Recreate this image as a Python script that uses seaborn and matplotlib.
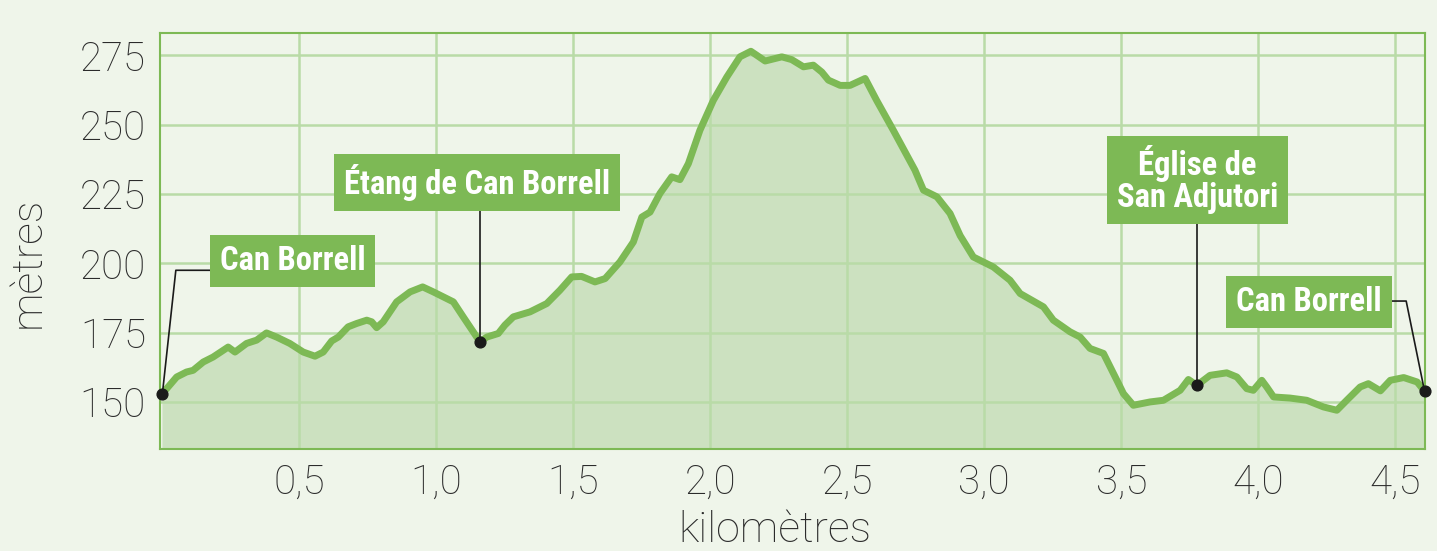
import numpy as np
import pandas as pd
import seaborn as sns
import matplotlib.pyplot as plt
from matplotlib import font_manager

# -------------------------------
# Data: elevation profile (km, m)
# -------------------------------
distance_km = [0.000, 0.052, 0.088, 0.112, 0.149, 0.185, 0.240, 0.265, 0.307, 0.344,
               0.380, 0.417, 0.465, 0.514, 0.557, 0.587, 0.618, 0.642, 0.678, 0.709,
               0.746, 0.764, 0.782, 0.806, 0.855, 0.904, 0.950, 0.989, 1.062, 1.098,
               1.159, 1.184, 1.226, 1.250, 1.281, 1.342, 1.403, 1.451, 1.494, 1.530,
               1.579, 1.616, 1.670, 1.719, 1.750, 1.780, 1.816, 1.859, 1.889, 1.920,
               1.962, 2.011, 2.060, 2.108, 2.148, 2.169, 2.200, 2.261, 2.297, 2.340,
               2.376, 2.407, 2.431, 2.474, 2.510, 2.565, 2.607, 2.668, 2.747, 2.778,
               2.827, 2.875, 2.912, 2.960, 3.033, 3.094, 3.131, 3.216, 3.252, 3.313,
               3.350, 3.386, 3.435, 3.484, 3.508, 3.544, 3.605, 3.654, 3.715, 3.745,
               3.776, 3.824, 3.885, 3.922, 3.958, 3.982, 4.013, 4.031, 4.056, 4.116,
               4.177, 4.238, 4.287, 4.323, 4.372, 4.402, 4.446, 4.482, 4.531, 4.580,
               4.607]
elevation_m = [153.0, 159.0, 160.8, 161.4, 164.4, 166.2, 169.8, 168.0, 171.1, 172.3,
               174.9, 173.4, 171.1, 168.0, 166.5, 168.0, 172.0, 173.4, 177.1, 178.3,
               179.5, 178.9, 176.8, 178.9, 186.1, 189.7, 191.5, 189.7, 186.1, 180.7,
               171.7, 173.4, 174.7, 177.7, 180.7, 182.5, 185.5, 190.3, 195.1, 195.3,
               193.3, 194.5, 200.5, 207.7, 216.7, 218.5, 225.2, 231.2, 230.2, 236.0,
               248.0, 258.8, 267.2, 274.5, 276.5, 275.1, 273.0, 274.5, 273.5, 270.9,
               271.5, 269.0, 266.1, 264.2, 264.2, 266.7, 258.8, 248.0, 233.6, 226.4,
               224.0, 218.0, 210.0, 202.3, 198.7, 193.9, 189.1, 184.3, 179.5, 175.3,
               173.4, 169.3, 167.5, 157.8, 153.0, 148.8, 150.0, 150.6, 154.2, 158.1,
               156.0, 159.6, 160.5, 159.0, 154.8, 154.2, 157.8, 155.4, 151.8, 151.4,
               150.6, 148.2, 147.0, 150.6, 155.4, 156.6, 154.0, 157.8, 158.8, 157.2,
               153.9]

# waypoints: label, index into the profile
waypoint_labels = ["Can Borrell", "Étang de Can Borrell", "Église de\nSan Adjutori", "Can Borrell"]
waypoint_idx = [0, 30, 90, len(distance_km) - 1]

x_ticks = [0.5, 1.0, 1.5, 2.0, 2.5, 3.0, 3.5, 4.0, 4.5]
y_ticks = [150, 175, 200, 225, 250, 275]

df = pd.DataFrame({"km": distance_km, "m": elevation_m})

# -------------------------------
# Style
# -------------------------------
bg = "#eff5ea"
green = "#7db955"
fill = "#cce1c0"
grid = "#b9dba7"
ink = "#2b2b2b"

sns.set_theme(style="white")
plt.rcParams["font.family"] = ["Roboto", "DejaVu Sans"]

# condensed bold face for the waypoint boxes, if one is around
names = {f.name for f in font_manager.fontManager.ttflist}
cond = [n for n in ["Liberation Sans Narrow", "Roboto Condensed", "DejaVu Sans Condensed"] if n in names]
box_family = cond[:1] + ["DejaVu Sans"]
box_size = 23.5 if cond else 20

fig = plt.figure(figsize=(14.37, 5.51), dpi=100, facecolor=bg)
ax = fig.add_axes([0.1113, 0.185, 0.8806, 0.7546])
ax.set_facecolor(bg)

ax.fill_between(df["km"], df["m"], 0, color=fill, zorder=1, lw=0)
sns.lineplot(data=df, x="km", y="m", ax=ax, color=green, lw=5, zorder=3,
             solid_joinstyle="round", solid_capstyle="round")

ax.set_xlim(-0.009, 4.61)
ax.set_ylim(133, 283)
ax.set_xticks(x_ticks)
ax.set_xticklabels([f"{t:.1f}".replace(".", ",") for t in x_ticks])
ax.set_yticks(y_ticks)
ax.grid(True, color=grid, lw=1.8, zorder=2)
ax.set_axisbelow(False)
for s in ax.spines.values():
    s.set_color(green)
    s.set_linewidth(1.5)
    s.set_zorder(4)
ax.tick_params(length=0, labelsize=29, labelcolor=ink, pad=10)
for lab in ax.get_xticklabels() + ax.get_yticklabels():
    lab.set_fontweight("light")
ax.set_xlabel("kilomètres", fontsize=31, color=ink, fontweight="light")
ax.set_ylabel("mètres", fontsize=31, color=ink, fontweight="light")
ax.xaxis.set_label_coords(0.486, -0.147)
ax.yaxis.set_label_coords(-0.088, 0.45)

# -------------------------------
# Waypoint labels
# -------------------------------
box_pos = [(0.475, 200.8), (1.148, 229.1), (3.777, 230.1), (4.185, 186.0)]
# leader bends (from box edge to marker)
leaders = [
    [(0.184, 197.5), (0.049, 197.5)],
    [(1.159, 220.1)],
    [(3.776, 214.4)],
    [(4.475, 186.4), (4.540, 186.4)],
]
for lab, i, (bx, by), pts in zip(waypoint_labels, waypoint_idx, box_pos, leaders):
    px, py = distance_km[i], elevation_m[i]
    xs = [p[0] for p in pts] + [px]
    ys = [p[1] for p in pts] + [py]
    ax.plot(xs, ys, color="#1a1a1a", lw=1.2, zorder=5, clip_on=False)
    ax.scatter([px], [py], s=60, color="#1a1a1a", zorder=6, clip_on=False)
    ax.text(bx, by, lab, ha="center", va="center", fontsize=box_size, color="white",
            fontweight="bold", family=box_family, linespacing=1.0, zorder=7,
            bbox=dict(boxstyle="square,pad=0.3", fc=green, ec="none"))

fig.savefig("out.png", dpi=100, facecolor=bg)
